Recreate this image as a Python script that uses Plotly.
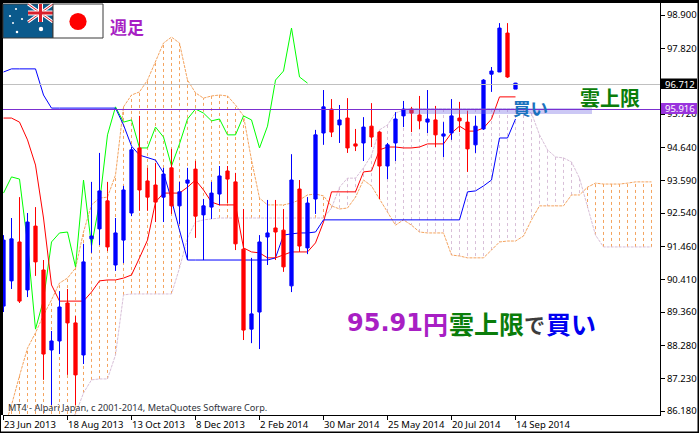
import plotly.graph_objects as go

W, H = 699, 433
L, R, T, B = 3, 660, 3, 415

opens = [89.55,90.36,91.61,90.07,92.12,90.71,88.14,88.43,89.65,89.01,87.98,91.71,92.03,92.93,90.87,91.67,92.54,94.63,93.57,93.44,93.05,93.99,92.77,93.50,93.95,92.48,92.73,93.15,93.89,93.54,91.38,88.81,89.36,91.77,92.06,91.99,90.20,93.31,91.42,92.99,95.11,95.88,95.37,95.59,94.76,94.79,95.33,95.14,94.05,94.79,95.66,95.88,95.69,95.46,95.53,95.01,95.11,95.59,95.46,94.73,95.24,97.00,97.07,98.32,96.52]
closes = [91.67,91.71,89.71,92.25,90.97,88.01,88.43,89.52,89.01,87.34,90.97,91.80,93.25,91.45,91.90,93.28,94.57,93.28,93.05,92.89,93.79,92.77,93.22,93.60,92.44,92.77,93.18,93.73,93.63,91.55,88.78,89.30,91.61,91.90,91.93,90.81,93.60,91.48,92.86,95.05,95.95,95.14,95.53,94.63,94.69,95.30,94.98,94.05,94.73,95.56,95.88,95.75,95.50,95.56,95.05,95.08,95.66,95.50,94.60,95.33,96.81,97.10,98.48,96.91,96.712]
highs = [91.83,92.38,93.05,92.54,92.73,91.03,88.75,90.03,90.10,89.23,91.55,93.54,94.47,93.54,92.38,93.41,94.66,95.66,93.99,94.15,93.99,94.60,93.54,93.99,94.21,92.99,93.54,94.05,94.05,93.83,92.67,91.10,91.83,92.96,92.96,92.67,94.43,93.60,93.05,95.21,96.49,96.20,96.01,96.23,95.24,95.62,96.07,95.17,94.79,95.78,96.14,95.95,96.30,96.49,95.98,95.46,96.20,96.11,95.82,95.66,96.84,97.23,98.64,98.64,96.72]
lows = [89.36,90.10,89.65,89.84,90.52,87.18,86.37,88.01,87.34,86.37,87.69,91.26,91.51,91.32,90.68,90.93,92.44,92.61,92.61,92.25,92.25,92.51,92.19,91.03,91.74,91.03,92.35,92.80,92.86,91.35,88.46,88.36,88.17,90.87,91.03,90.65,90.00,91.29,91.22,92.51,94.73,94.98,94.79,94.47,94.53,94.21,94.66,92.99,93.63,94.21,95.30,95.14,95.24,95.11,94.66,94.34,94.89,95.14,93.86,94.47,95.21,96.43,97.07,96.88,96.52]

tenkan = [95.59,95.59,95.46,94.89,94.08,92.38,90.23,89.71,89.71,89.71,89.71,90.00,90.36,90.39,90.39,90.45,90.55,91.10,91.67,92.89,93.18,93.18,93.18,93.37,93.60,93.28,92.89,92.80,92.80,92.80,91.42,91.29,91.26,91.10,91.10,91.19,91.29,91.29,91.29,91.58,92.25,93.22,93.22,93.22,93.22,93.86,93.89,94.57,94.66,94.66,94.63,94.63,94.66,94.76,94.76,94.76,95.11,95.33,95.17,95.17,95.27,95.56,96.27,96.27,96.27]
kijun = [97.07,97.17,97.17,97.17,97.17,96.33,95.91,95.91,95.91,95.91,95.91,95.91,95.91,95.91,95.91,95.37,94.69,94.40,94.31,94.24,93.83,92.96,91.99,91.03,91.03,91.03,91.03,91.03,91.03,91.03,91.03,91.03,91.03,91.03,91.10,91.83,91.87,91.90,91.90,91.93,92.32,92.32,92.32,92.32,92.32,92.32,92.32,92.32,92.32,92.32,92.32,92.32,92.32,92.32,92.32,92.32,92.32,92.32,93.22,93.25,93.41,93.60,94.95,94.95,95.56]
chikou = [93.18,93.70,93.63,91.58,88.81,89.75,91.61,91.90,91.93,90.81,93.60,91.48,92.86,95.05,95.95,95.46,95.53,94.63,94.63,95.30,94.98,94.05,94.76,95.56,95.88,95.75,95.50,95.56,95.05,95.05,95.66,95.53,94.63,95.33,96.81,97.10,98.48,96.91,96.712]
span_a = [85.57,86.37,87.31,88.20,88.69,89.26,89.75,90.29,90.45,90.77,91.93,92.80,93.02,93.05,93.76,95.95,96.33,96.43,96.81,97.39,98.00,98.19,98.00,96.81,96.40,96.23,96.30,96.33,96.30,96.01,95.66,94.24,93.02,92.80,92.80,92.80,92.86,92.96,93.12,93.15,93.09,92.77,92.67,92.70,93.05,93.60,93.41,92.99,92.54,92.15,92.32,92.15,91.93,91.90,91.90,91.90,91.19,91.16,91.10,91.10,91.10,91.35,91.61,91.64,91.64,91.80,92.32,92.77,92.77,92.77,92.77,93.12,93.12,93.37,93.50,93.47,93.47,93.47,93.50,93.54,93.54,93.54]
span_b = [85.89,85.89,85.89,85.89,85.89,85.89,85.89,85.89,85.89,86.08,86.76,87.18,87.21,87.21,87.98,89.91,89.94,89.94,89.94,89.94,89.94,89.94,90.77,91.74,92.25,92.32,92.35,92.38,92.38,92.38,92.38,92.38,92.38,92.38,92.38,92.38,92.38,92.38,92.38,92.38,92.38,92.70,93.37,93.66,93.66,93.99,94.40,95.21,95.37,95.75,95.85,95.88,95.88,95.88,95.88,95.88,95.88,95.88,95.88,95.88,95.88,95.88,95.88,95.88,95.88,95.88,95.75,95.05,94.57,94.34,94.31,94.18,93.66,92.70,91.83,91.45,91.45,91.45,91.45,91.45,91.45,91.45]

y_ticks = [98.900,97.820,96.712,95.720,94.640,93.590,92.540,91.460,90.410,89.360,88.280,87.230,86.180]
y_tick_labels = ["98.900","97.820","","95.720","94.640","93.590","92.540","91.460","90.410","89.360","88.280","87.230","86.180"]
date_labels = ["23 Jun 2013","18 Aug 2013","13 Oct 2013","8 Dec 2013","2 Feb 2014","30 Mar 2014","25 May 2014","20 Jul 2014","14 Sep 2014"]
date_positions = [0,8,16,24,32,40,48,56,64]
current_label = "96.712"
buy_label = "95.916"
current_line = 96.668
buy_line = 95.865

C_ORANGE = "#f4a460"
C_THISTLE = "#d8bfd8"
C_PURPLE = "#a81fc4"
C_GREEN = "#0a7d0a"
UI_FONT = "Noto Sans"
JP_FONT = "Noto Sans CJK JP"
NUM_FONT = "DejaVu Sans"


def px(v):
    return (v - L) / (R - L)


def py(v):
    return (B - v) / (B - T)


def hatch(col_test):
    xs, ys = [], []
    for i, (a, b) in enumerate(zip(span_a, span_b)):
        if col_test(a, b):
            xs += [i, i, None]
            ys += [b, a, None]
    return xs, ys


fig = go.Figure()

for test, colour in ((lambda a, b: a >= b, C_ORANGE), (lambda a, b: a < b, C_THISTLE)):
    hx, hy = hatch(test)
    fig.add_trace(go.Scatter(x=hx, y=hy, mode="lines", connectgaps=False,
                             line=dict(color=colour, width=1, dash="3px,3px")))

fig.add_trace(go.Scatter(x=list(range(len(span_a))), y=span_a, mode="lines",
                         line=dict(color=C_ORANGE, width=1, dash="3px,1px")))
fig.add_trace(go.Scatter(x=list(range(len(span_b))), y=span_b, mode="lines",
                         line=dict(color=C_THISTLE, width=1, dash="3px,1px")))
fig.add_trace(go.Scatter(x=list(range(len(chikou))), y=chikou, mode="lines",
                         line=dict(color="#00ff00", width=1)))
fig.add_trace(go.Scatter(x=list(range(len(tenkan))), y=tenkan, mode="lines",
                         line=dict(color="#ff0000", width=1)))
fig.add_trace(go.Scatter(x=list(range(len(kijun))), y=kijun, mode="lines",
                         line=dict(color="#0000ff", width=1)))

fig.add_trace(go.Candlestick(
    x=list(range(len(opens))), open=opens, high=highs, low=lows, close=closes,
    xaxis="x2", yaxis="y2", whiskerwidth=0,
    increasing=dict(line=dict(color="#0000ff", width=1), fillcolor="#0000ff"),
    decreasing=dict(line=dict(color="#ff0000", width=1), fillcolor="#ff0000"),
))

X_RANGE = [-0.0625, 82.0625]
Y_RANGE = [86.052, 99.286]

shapes = []


def rect(x0, y0, x1, y1, fill, line=None, lw=0, layer="above"):
    shapes.append(dict(type="rect", xref="paper", yref="paper", x0=px(x0), x1=px(x1),
                       y0=py(y0), y1=py(y1), fillcolor=fill, layer=layer,
                       line=dict(color=line or fill, width=lw)))


def seg(x0, y0, x1, y1, colour, lw):
    shapes.append(dict(type="line", xref="paper", yref="paper", x0=px(x0), x1=px(x1),
                       y0=py(y0), y1=py(y1), layer="above", line=dict(color=colour, width=lw)))


def disc(cx, cy, r, colour):
    shapes.append(dict(type="circle", xref="paper", yref="paper", x0=px(cx - r), x1=px(cx + r),
                       y0=py(cy - r), y1=py(cy + r), fillcolor=colour, layer="above",
                       line=dict(color=colour, width=0)))


# buy band and price lines
shapes.append(dict(type="rect", xref="paper", yref="paper", x0=px(405), x1=px(592), y0=py(108), y1=py(114),
                   fillcolor="rgba(120,110,230,0.38)", layer="above", line=dict(width=0)))
shapes.append(dict(type="line", xref="paper", yref="y", x0=0, x1=1, y0=current_line, y1=current_line,
                   layer="above", line=dict(color="#c0c0c0", width=1)))
shapes.append(dict(type="line", xref="paper", yref="y", x0=0, x1=1, y0=buy_line, y1=buy_line,
                   layer="above", line=dict(color="#7b2fd0", width=1)))

# window frame
rect(0, 0, W, T, "#000000")
rect(0, 0, L, B, "#000000")
rect(0, B, 1, H, "#000000")
rect(0, H - 1.5, W, H, "#000000")
rect(W - 1.5, 0, W, H, "#000000")

# Australian flag
rect(3, 4, 53, 38, "#0b5a8c", "#3a3a3a", 1)
seg(28, 4, 53, 22, "#ffffff", 3)
seg(53, 4, 28, 22, "#ffffff", 3)
seg(28, 4, 53, 22, "#d8202c", 1)
seg(53, 4, 28, 22, "#d8202c", 1)
seg(40.5, 4, 40.5, 22, "#ffffff", 5)
seg(28, 13, 53, 13, "#ffffff", 5)
seg(40.5, 4, 40.5, 22, "#d8202c", 3)
seg(28, 13, 53, 13, "#d8202c", 3)
for sx, sy, sr in ((16, 9, 1.1), (10, 16, 1.1), (22, 19, 1.1), (13, 23, 1), (17, 32, 1.3), (41, 29, 2.2)):
    disc(sx, sy, sr, "#ffffff")
# Japanese flag
rect(53, 4, 103, 38, "#ffffff", "#3a3a3a", 1)
disc(78, 21.5, 8.6, "#ff0000")

annotations = []


def note(text, x, y, size, colour, font=JP_FONT, anchor="left", bg=None):
    annotations.append(dict(text=text, xref="paper", yref="paper", x=px(x), y=py(y), showarrow=False,
                            xanchor=anchor, yanchor="middle", align="left",
                            font=dict(family=font, size=size, color=colour),
                            bgcolor=bg, borderpad=0))


note("<b>週足</b>", 109, 27, 17, C_PURPLE)
note("<b>雲上限</b>", 578.5, 97, 20, C_GREEN)
note("<b>買い</b>", 512, 107, 17.5, "#1a72bd")
note("<b>95.91</b>", 346, 323, 24, C_PURPLE, NUM_FONT)
note("<b>円</b>", 422, 323, 25, C_PURPLE)
note("<b>雲上限</b>", 448, 323, 25, C_GREEN)
note("<b>で</b>", 523, 324, 21, "#3c3c3c")
note("<b>買い</b>", 545, 323, 25, "#0000f0")
note("MT4 - Alpari Japan, c 2001-2014, MetaQuotes Software Corp.", 7, 407.5, 9.2, "#30343c", UI_FONT)
note(current_label, 664, 84, 9.5, "#ffffff", UI_FONT)
note(buy_label, 664, 108.5, 9.5, "#ffffff", UI_FONT)
for pos, label in zip(date_positions, date_labels):
    annotations.append(dict(text=label, xref="x", yref="paper", x=pos, y=py(424.5), showarrow=False,
                            xanchor="left", yanchor="middle", xshift=-1,
                            font=dict(family=UI_FONT, size=9.5, color="#000000"), borderpad=0))

# price tags sit under their text
rect(661, 78.5, 697, 89, "#000000")
rect(661, 103, 697, 114, "#9933dd")

fig.update_layout(
    width=W, height=H, autosize=False, showlegend=False,
    margin=dict(l=L, r=W - R, t=T, b=H - B, pad=0),
    paper_bgcolor="#ffffff", plot_bgcolor="#ffffff",
    boxgap=0.42, boxmode="overlay",
    shapes=shapes, annotations=annotations,
    xaxis=dict(range=X_RANGE, tickmode="array", tickvals=date_positions, showticklabels=False,
               ticks="outside", ticklen=4, tickcolor="#000000", tickwidth=1,
               showgrid=False, zeroline=False, showline=True, linecolor="#000000", linewidth=1,
               rangeslider=dict(visible=False), fixedrange=True),
    yaxis=dict(range=Y_RANGE, side="right", tickmode="array", tickvals=y_ticks, ticktext=y_tick_labels,
               ticks="outside", ticklen=4, tickcolor="#000000", tickwidth=1,
               tickfont=dict(family=UI_FONT, size=9.5, color="#000000"),
               showgrid=False, zeroline=False, showline=True, linecolor="#000000", linewidth=1,
               fixedrange=True),
    xaxis2=dict(range=X_RANGE, overlaying="x", visible=False, rangeslider=dict(visible=False), fixedrange=True),
    yaxis2=dict(range=Y_RANGE, overlaying="y", visible=False, fixedrange=True),
)

fig.write_html("out.html", config={"displayModeBar": False},
               post_script="document.body.style.margin='0';document.documentElement.style.overflow='hidden';document.body.style.overflow='hidden';")
